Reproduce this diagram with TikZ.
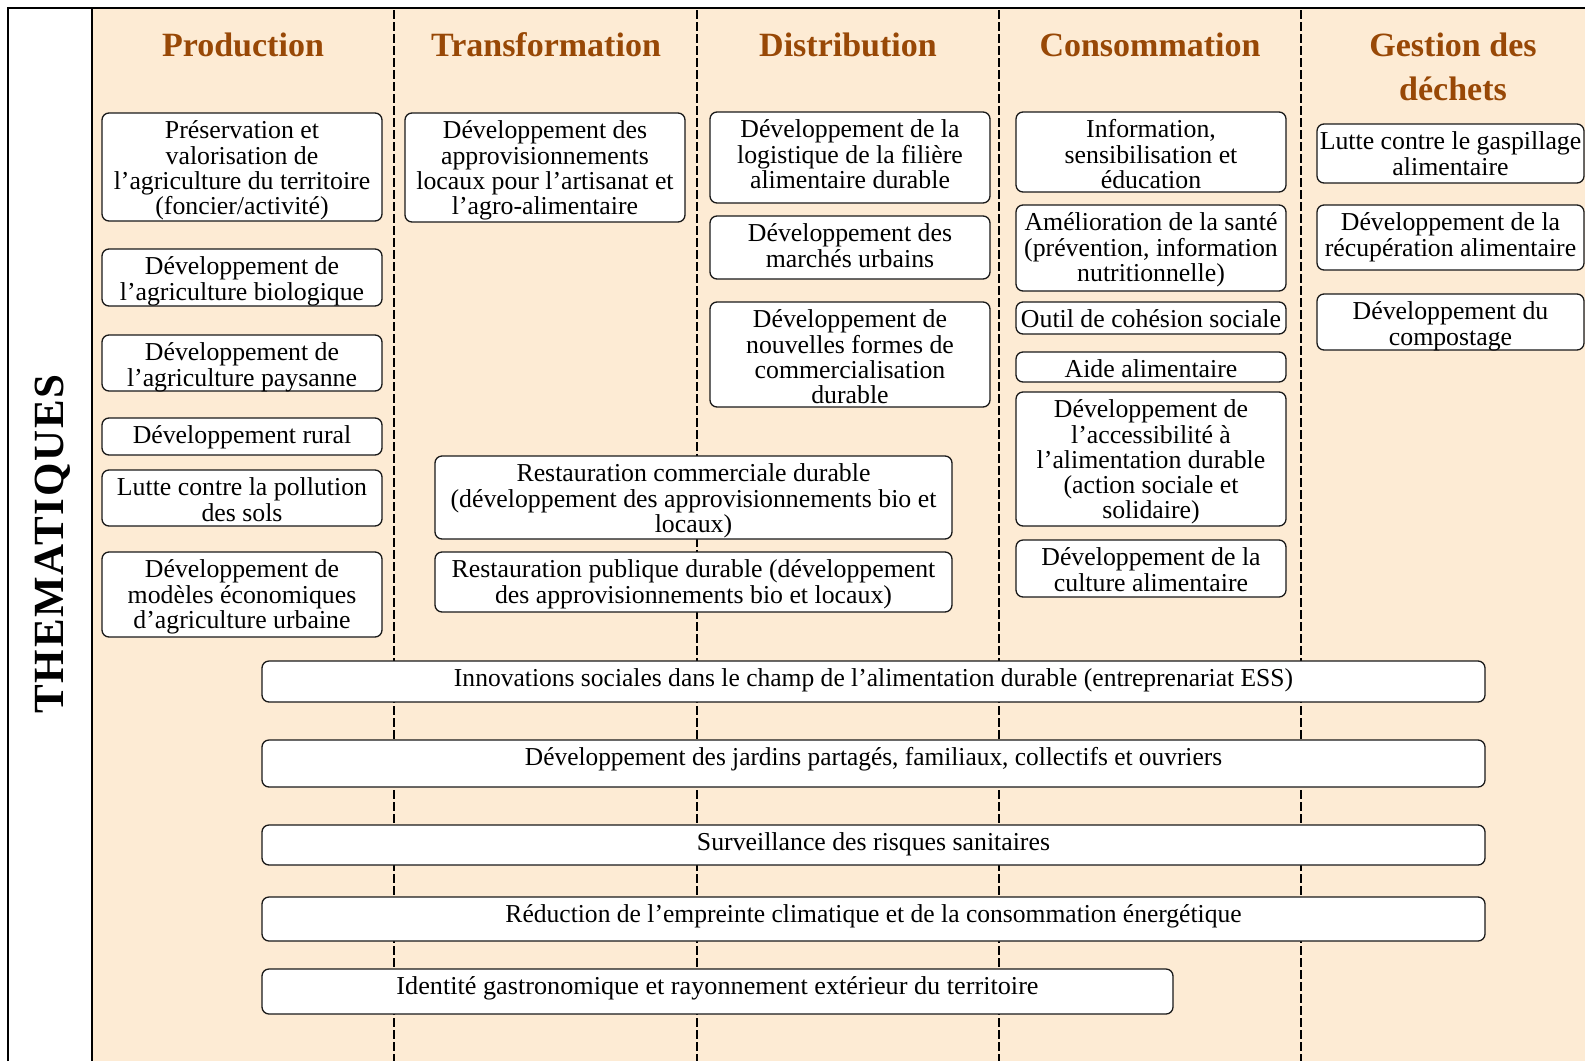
\documentclass[tikz,border=0pt]{standalone}
\usepackage{fontspec}
\setmainfont{Liberation Serif}
\definecolor{beige}{HTML}{FDEBD4}
\definecolor{hdrc}{HTML}{984806}
\tikzset{
  tbx/.style={draw=black!90, line width=0.65pt, fill=white, rounded corners=3.5pt, inner sep=0pt},
  btext/.style={anchor=north, inner sep=0pt, align=center, font=\fontsize{12.9}{12.65}\selectfont},
  hdr/.style={anchor=base, text=hdrc, font=\bfseries\fontsize{17}{22}\selectfont, inner sep=0pt},
  colsep/.style={line width=1.3pt, dash pattern=on 4.5pt off 1.5pt},
}
\newcommand\tbox[6]{%
  \pgfmathsetmacro\bw{(#4-#2)*0.5}%
  \pgfmathsetmacro\bh{(#5-#3)*0.5}%
  \node[tbx, minimum width=\bw pt, minimum height=\bh pt] (#1) at ({(#2+#4)/2},{(#3+#5)/2}) {};
  \node[btext] (#1t) at ([yshift=-3pt]#1.north) {\rule{0pt}{10pt}#6};
}
\newcommand\wtext[2]{\resizebox{#1pt}{\height}{#2}}
\begin{document}
\begin{tikzpicture}[x=0.5pt, y=-0.5pt]
\useasboundingbox (0,0) rectangle (1585,1061);
% background
\fill[beige] (92,9) rectangle (1585,1061);
% column separators
\foreach \cx in {394,697,999,1301} \draw[colsep] (\cx,10) -- (\cx,1061);
% frame
\draw[line width=1.1pt] (8,1061) -- (8,8) -- (1585,8);
\draw[line width=0.9pt] (92,8) -- (92,1061);
% side title
\node[rotate=90, anchor=base, inner sep=0pt, font=\bfseries\fontsize{21.5}{22}\selectfont\addfontfeature{LetterSpace=4}] (them) at (63.5,544) {THEMATIQUES};
% headers
\node[hdr] (hP) at (243,56) {Production};
\node[hdr] (hT) at (546,56) {Transformation};
\node[hdr] (hD) at (848,56) {Distribution};
\node[hdr] (hC) at (1150,56) {Consommation};
\node[hdr] (hG) at (1453,56) {Gestion des};
\node[hdr] (hG2) at (1453,100) {déchets};
% Production
\tbox{P1}{102}{113}{382}{221}{Préservation et\\valorisation de\\l’agriculture du territoire\\(foncier/activité)}
\tbox{P2}{102}{249}{382}{306}{Développement de\\l’agriculture biologique}
\tbox{P3}{102}{335}{382}{391}{Développement de\\l’agriculture paysanne}
\tbox{P4}{102}{418}{382}{455}{Développement rural}
\tbox{P5}{102}{470}{382}{526}{Lutte contre la pollution\\des sols}
\tbox{P6}{102}{552}{382}{637}{Développement de\\modèles économiques\\d’agriculture urbaine}
% Transformation
\tbox{T1}{405}{113}{685}{222}{Développement des\\approvisionnements\\locaux pour l’artisanat et\\l’agro-alimentaire}
% Distribution
\tbox{D1}{710}{112}{990}{203}{Développement de la\\logistique de la filière\\alimentaire durable}
\tbox{D2}{710}{216}{990}{279}{Développement des\\marchés urbains}
\tbox{D3}{710}{302}{990}{407}{Développement de\\nouvelles formes de\\commercialisation\\durable}
% Restauration
\tbox{R1}{435}{456}{952}{539}{Restauration commerciale durable\\(développement des approvisionnements bio et\\locaux)}
\tbox{R2}{435}{552}{952}{612}{Restauration publique durable (développement\\des approvisionnements bio et locaux)}
% Consommation
\tbox{C1}{1016}{112}{1286}{192}{Information,\\sensibilisation et\\éducation}
\tbox{C2}{1016}{205}{1286}{291}{Amélioration de la santé\\(prévention, information\\nutritionnelle)}
\tbox{C3}{1016}{302}{1286}{334}{Outil de cohésion sociale}
\tbox{C4}{1016}{352}{1286}{382}{Aide alimentaire}
\tbox{C5}{1016}{392}{1286}{526}{Développement de\\l’accessibilité à\\l’alimentation durable\\(action sociale et\\solidaire)}
\tbox{C6}{1016}{540}{1286}{597}{Développement de la\\culture alimentaire}
% Gestion des dechets
\tbox{G1}{1317}{124}{1584}{183}{Lutte contre le gaspillage\\alimentaire}
\tbox{G2}{1317}{205}{1584}{270}{Développement de la\\récupération alimentaire}
\tbox{G3}{1317}{294}{1584}{350}{Développement du\\compostage}
% wide boxes
\tbox{W1}{262}{661}{1485}{702}{\wtext{419.5}{Innovations sociales dans le champ de l’alimentation durable (entreprenariat ESS)}}
\tbox{W2}{262}{740}{1485}{787}{\wtext{348.5}{Développement des jardins partagés, familiaux, collectifs et ouvriers}}
\tbox{W3}{262}{825}{1485}{865}{\wtext{176.5}{Surveillance des risques sanitaires}}
\tbox{W4}{262}{897}{1485}{941}{\wtext{368}{Réduction de l’empreinte climatique et de la consommation énergétique}}
\tbox{W5}{262}{969}{1173}{1014}{\wtext{321}{Identité gastronomique et rayonnement extérieur du territoire}}
\end{tikzpicture}
\end{document}
